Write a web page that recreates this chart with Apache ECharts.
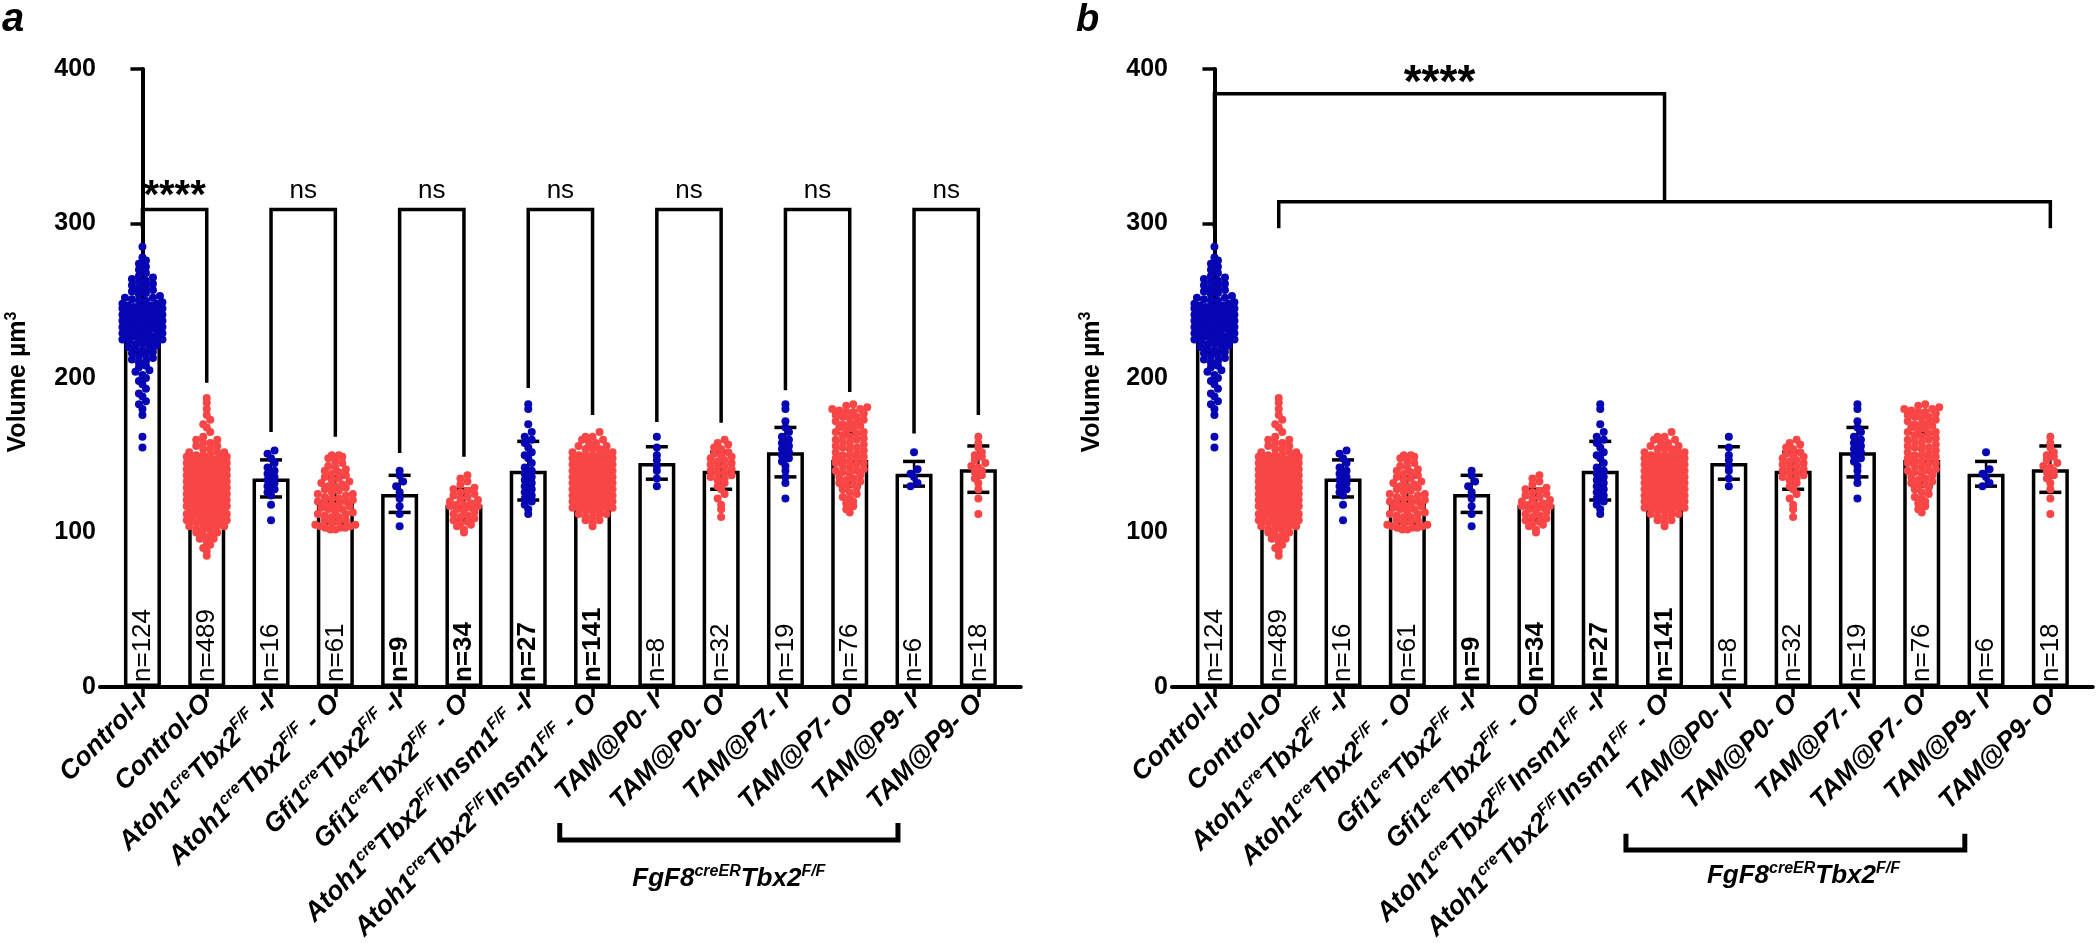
<!DOCTYPE html>
<html><head><meta charset="utf-8">
<script src="https://cdn.jsdelivr.net/npm/echarts@6/dist/echarts.min.js"></script>
<style>html,body{margin:0;padding:0;background:#fff}#c{width:2100px;height:949px}</style>
</head><body><div id="c"></div>
<script>
// ---------------- DATA ----------------
const categoryLabels = [
  '{b|Control-I}',
  '{b|Control-O}',
  '{b|Atoh1}{s|cre}{b|Tbx2}{s|F/F}{b| -I}',
  '{b|Atoh1}{s|cre}{b|Tbx2}{s|F/F}{b| - O}',
  '{b|Gfi1}{s|cre}{b|Tbx2}{s|F/F}{b| -I}',
  '{b|Gfi1}{s|cre}{b|Tbx2}{s|F/F}{b| - O}',
  '{b|Atoh1}{s|cre}{b|Tbx2}{s|F/F}{b|Insm1}{s|F/F}{b| -I}',
  '{b|Atoh1}{s|cre}{b|Tbx2}{s|F/F}{b|Insm1}{s|F/F}{b| - O}',
  '{b|TAM@P0- I}', '{b|TAM@P0- O}', '{b|TAM@P7- I}', '{b|TAM@P7- O}', '{b|TAM@P9- I}', '{b|TAM@P9- O}'
];
const nLabels = ['n=124','n=489','n=16','n=61','n=9','n=34','n=27','n=141','n=8','n=32','n=19','n=76','n=6','n=18'];
const nBold   = [false,false,false,false,true,true,true,true,false,false,false,false,false,false];
const groupColor = ['blue','red','blue','red','blue','red','blue','red','blue','red','blue','red','blue','red'];
const means = [237, 131, 135, 121, 125, 118, 140, 137, 145, 140, 152, 147, 138, 141];
const sds   = [20, 13, 12, 15, 12, 10, 19, 12, 10.5, 12, 16, 17, 8, 15];
const yTicks = [0, 100, 200, 300, 400];

const ctrlI = [155,162,176,180,183,185,188,190,193,196,198,200,202,204,205,207,208,210,211,212,
213,214,215,216,217,218,219,220,220,221,222,222,223,224,224,225,225,226,226,227,
227,228,228,229,229,230,230,230,231,231,232,232,232,233,233,234,234,234,235,235,
235,236,236,236,237,237,237,238,238,238,239,239,239,240,240,240,241,241,241,242,
242,242,243,243,244,244,244,245,245,246,246,247,247,248,248,249,250,250,251,252,
252,253,254,255,256,257,258,259,260,261,262,263,264,265,266,268,270,272,274,276,
285,278,246,238];
const ctrlO = [85,88,90,92,94,96,96,98,98,100,100,102,102,102,104,104,104,106,106,106,106,
108,108,108,108,108,110,110,110,110,110,110,112,112,112,112,112,112,112,112,
114,114,114,114,114,114,114,114,114,114,115,115,115,115,115,115,115,115,115,115,
116,116,116,116,116,116,116,116,116,116,116,116,117,117,117,117,117,117,117,117,117,117,117,117,
118,118,118,118,118,118,118,118,118,118,118,118,118,119,119,119,119,119,119,119,119,119,119,119,119,119,119,
120,120,120,120,120,120,120,120,120,120,120,120,120,120,120,121,121,121,121,121,121,121,121,121,121,121,121,121,121,121,
122,122,122,122,122,122,122,122,122,122,122,122,122,122,122,122,123,123,123,123,123,123,123,123,123,123,123,123,123,123,123,123,
124,124,124,124,124,124,124,124,124,124,124,124,124,124,124,124,124,125,125,125,125,125,125,125,125,125,125,125,125,125,125,125,125,125,
126,126,126,126,126,126,126,126,126,126,126,126,126,126,126,126,126,127,127,127,127,127,127,127,127,127,127,127,127,127,127,127,127,127,
128,128,128,128,128,128,128,128,128,128,128,128,128,128,128,128,128,129,129,129,129,129,129,129,129,129,129,129,129,129,129,129,129,129,
130,130,130,130,130,130,130,130,130,130,130,130,130,130,130,130,130,131,131,131,131,131,131,131,131,131,131,131,131,131,131,131,131,
132,132,132,132,132,132,132,132,132,132,132,132,132,132,132,132,133,133,133,133,133,133,133,133,133,133,133,133,133,133,133,
134,134,134,134,134,134,134,134,134,134,134,134,134,134,134,135,135,135,135,135,135,135,135,135,135,135,135,135,135,
136,136,136,136,136,136,136,136,136,136,136,136,136,137,137,137,137,137,137,137,137,137,137,137,137,
138,138,138,138,138,138,138,138,138,138,138,139,139,139,139,139,139,139,139,139,139,
140,140,140,140,140,140,140,140,140,141,141,141,141,141,141,141,141,142,142,142,142,142,142,142,
143,143,143,143,143,143,144,144,144,144,144,144,145,145,145,145,145,146,146,146,146,146,
147,147,147,147,148,148,148,148,149,149,149,150,150,150,152,152,152,154,154,156,156,158,158,160,160,
162,165,168,170,173,176,180,184,187];
const atohI = [108,118,124,126,128,130,132,134,136,138,140,142,145,148,151,153];
const atohO = [102,102,103,103,103,104,104,105,105,106,107,108,108,110,110,111,112,112,113,114,115,115,116,117,118,118,119,120,120,121,122,122,123,124,125,125,126,127,128,129,130,130,131,132,133,134,135,136,137,138,139,140,141,142,143,145,146,148,149,150,150];
const gfiI = [104,112,117,122,126,130,133,137,140];
const gfiO = [100,102,104,105,106,107,108,109,110,111,112,113,114,115,116,117,117,118,118,119,120,121,122,123,124,125,126,127,128,129,131,133,135,137];
const ainsI = [112,115,118,120,122,124,126,128,130,132,134,136,138,140,142,145,148,150,152,155,158,160,162,165,170,180,183];
const ainsO = [104,106,108,108,110,110,112,112,112,114,114,114,116,116,116,116,118,118,118,118,118,
120,120,120,120,120,120,122,122,122,122,122,122,122,124,124,124,124,124,124,124,124,
126,126,126,126,126,126,126,126,128,128,128,128,128,128,128,128,130,130,130,130,130,130,130,130,
132,132,132,132,132,132,132,132,134,134,134,134,134,134,134,134,136,136,136,136,136,136,136,
138,138,138,138,138,138,138,140,140,140,140,140,140,140,142,142,142,142,142,142,142,
144,144,144,144,144,144,146,146,146,146,146,148,148,148,148,150,150,150,150,152,152,152,154,154,154,
156,156,158,158,160,160,162,162,165];
const p0I = [130,135,140,143,147,150,155,162];
const p0O = [110,115,118,122,125,128,130,132,134,135,136,137,138,139,140,141,142,143,144,145,146,147,148,149,150,151,152,154,155,157,158,160];
const p7I = [122,132,136,140,143,146,148,150,152,154,156,158,160,162,165,168,172,180,183];
const p7O = [113,115,117,119,120,122,123,125,126,128,129,130,131,132,133,134,135,136,137,138,139,140,140,141,142,143,144,145,145,146,147,148,148,149,150,150,151,152,153,154,155,155,156,157,158,159,160,160,161,162,163,164,165,165,166,167,168,169,170,170,171,172,173,174,175,175,176,177,178,178,179,180,180,181,182,183];
const p9I = [130,132,136,138,141,152];
const p9O = [112,122,128,132,135,137,139,140,142,143,145,147,149,150,152,155,158,162];
const groupPoints = [ctrlI, ctrlO, atohI, atohO, gfiI, gfiO, ainsI, ainsO, p0I, p0O, p7I, p7O, p9I, p9O];

// significance (panel a): pairs, bracket top value, leg end values, labels
const pairsA = [[0,1],[2,3],[4,5],[6,7],[8,9],[10,11],[12,13]];
const sigLabelsA = ['****','ns','ns','ns','ns','ns','ns'];
const bracketTopA = 309;
const legEndsA = [297, 197, 165, 162, 151.5, 149, 193.5, 176, 171.5, 171, 192, 191, 164, 176];
// significance (panel b)
const sigLabelB = '****';
const bracketB = {upper: 384, lower: 314, legEnd: 297};

// ---------------- LAYOUT ----------------
const FONT = '"Liberation Sans", Arial, sans-serif';
const COLORS = {blue: '#0606b4', red: '#f84646'};
const PX_PER_UNIT = 64.3;
const panels = [
  {left: 100, group: {x1: 6.49, x2: 11.75, yTop: -88, yBot: -99, tx: 9.12, ty: -124}},
  {left: 1172, group: {x1: 6.4, x2: 11.67, yTop: -95, yBot: -105.5, tx: 9.16, ty: -122}}
];

function swarm(vals, idx) {
  const bins = new Map();
  vals.slice().sort((a, b) => a - b).forEach(v => {
    const k = Math.round(v / 4);
    if (!bins.has(k)) bins.set(k, []);
    bins.get(k).push(v);
  });
  const out = [];
  bins.forEach(arr => {
    const k = arr.length;
    const s = k > 1 ? Math.min(7, 40 / (k - 1)) : 0;
    const slots = [];
    for (let j = 0; j < k; j++) slots.push((j - (k - 1) / 2) * s);
    slots.sort((a, b) => Math.abs(a) - Math.abs(b));
    arr.forEach((v, j) => out.push([idx + slots[j] / PX_PER_UNIT, v]));
  });
  return out;
}

const blueData = [], redData = [];
groupPoints.forEach((vals, i) => {
  const pts = swarm(vals, i);
  (groupColor[i] === 'blue' ? blueData : redData).push(...pts);
});

const labelRich = {
  b: {fontFamily: FONT, fontSize: 26.5, fontWeight: 'bold', fontStyle: 'italic', color: '#000', lineHeight: 31},
  s: {fontFamily: FONT, fontSize: 16, fontWeight: 'bold', fontStyle: 'italic', color: '#000', verticalAlign: 'top', lineHeight: 17}
};
const idx14 = means.map((m, i) => i);

const grids = [], xAxes = [], yAxes = [], series = [];
panels.forEach((p, pi) => {
  grids.push({left: p.left, top: 69, width: 14.32 * PX_PER_UNIT, height: 618, containLabel: false, outerBoundsMode: 'none'});
  xAxes.push({
    type: 'value', gridIndex: pi, min: -0.66, max: 13.66,
    splitLine: {show: false},
    axisLine: {show: true, onZero: false, lineStyle: {color: '#000', width: 4}},
    axisTick: {show: true, customValues: idx14, length: 10, lineStyle: {color: '#000', width: 3.5}},
    axisLabel: {show: true, customValues: idx14, rotate: 45, margin: 12, hideOverlap: false,
      formatter: v => categoryLabels[Math.round(v)], rich: labelRich}
  });
  yAxes.push({
    type: 'value', gridIndex: pi, min: 0, max: 400, interval: 100,
    splitLine: {show: false},
    axisLine: {show: true, lineStyle: {color: '#000', width: 4}},
    axisTick: {show: true, length: 12, lineStyle: {color: '#000', width: 3.5}},
    axisLabel: {show: true, margin: 4, fontFamily: FONT, fontSize: 25, fontWeight: 'bold', color: '#000'}
  });
  // bars
  series.push({
    type: 'bar', xAxisIndex: pi, yAxisIndex: pi, barWidth: 37, z: 1,
    data: means.map((m, i) => [i, m]),
    itemStyle: {color: '#fff', borderColor: '#000', borderWidth: 3.5}
  });
  // error bars (under the points)
  series.push({
    type: 'custom', xAxisIndex: pi, yAxisIndex: pi, z: 2,
    data: means.map((m, i) => [i, m, sds[i]]),
    renderItem: (params, api) => {
      const x = api.value(0), m = api.value(1), sd = api.value(2);
      const t = api.coord([x, m + sd]), b = api.coord([x, m - sd]);
      const hw = 11, st = {stroke: '#000', lineWidth: 3.5};
      return {type: 'group', children: [
        {type: 'line', shape: {x1: t[0], y1: t[1], x2: b[0], y2: b[1]}, style: {stroke: '#000', lineWidth: 2.5}},
        {type: 'line', shape: {x1: t[0] - hw, y1: t[1], x2: t[0] + hw, y2: t[1]}, style: st},
        {type: 'line', shape: {x1: b[0] - hw, y1: b[1], x2: b[0] + hw, y2: b[1]}, style: st}
      ]};
    }
  });
  // points
  series.push({type: 'scatter', xAxisIndex: pi, yAxisIndex: pi, z: 3, symbolSize: 8, data: blueData,
    itemStyle: {color: COLORS.blue, opacity: 1}, silent: true});
  series.push({type: 'scatter', xAxisIndex: pi, yAxisIndex: pi, z: 3, symbolSize: 8, data: redData,
    itemStyle: {color: COLORS.red, opacity: 1}, silent: true});
  // n labels
  series.push({
    type: 'custom', xAxisIndex: pi, yAxisIndex: pi, z: 4,
    data: idx14.map(i => [i, 0]),
    renderItem: (params, api) => {
      const i = params.dataIndex;
      const c = api.coord([api.value(0), 0]);
      return {type: 'text', x: c[0], y: c[1] - 5, rotation: Math.PI / 2,
        style: {text: nLabels[i], fill: '#000', fontFamily: FONT, fontSize: 26,
          fontWeight: nBold[i] ? 'bold' : 'normal', align: 'left', verticalAlign: 'middle'}};
    }
  });
  // FgF8 group bracket under labels
  series.push({
    type: 'custom', xAxisIndex: pi, yAxisIndex: pi, z: 5, clip: false,
    data: [[p.group.x1, p.group.x2, p.group.yTop, p.group.yBot, p.group.tx, p.group.ty]],
    renderItem: (params, api) => {
      const a = api.coord([api.value(0), api.value(2)]);
      const a2 = api.coord([api.value(0), api.value(3)]);
      const b2 = api.coord([api.value(1), api.value(3)]);
      const b = api.coord([api.value(1), api.value(2)]);
      const t = api.coord([api.value(4), api.value(5)]);
      return {type: 'group', children: [
        {type: 'polyline', shape: {points: [a, a2, b2, b]}, style: {stroke: '#000', lineWidth: 5, fill: null}},
        {type: 'text', x: t[0], y: t[1], style: {
          text: '{i|FgF8}{s|creER}{i|Tbx2}{s|F/F}', align: 'center', verticalAlign: 'middle',
          rich: {i: {fontFamily: FONT, fontSize: 26, fontWeight: 'bold', fontStyle: 'italic', fill: '#000', lineHeight: 30},
                 s: {fontFamily: FONT, fontSize: 16, fontWeight: 'bold', fontStyle: 'italic', fill: '#000', verticalAlign: 'top', lineHeight: 16}}
        }}
      ]};
    }
  });
});

// panel a significance brackets
series.push({
  type: 'custom', xAxisIndex: 0, yAxisIndex: 0, z: 6, clip: false,
  data: pairsA.map(pr => [pr[0], pr[1], bracketTopA, legEndsA[pr[0]], legEndsA[pr[1]]]),
  renderItem: (params, api) => {
    const x1 = api.value(0), x2 = api.value(1), top = api.value(2);
    const p1 = api.coord([x1, api.value(3)]), p2 = api.coord([x1, top]);
    const p3 = api.coord([x2, top]), p4 = api.coord([x2, api.value(4)]);
    const lab = sigLabelsA[params.dataIndex];
    const star = lab === '****';
    const tc = api.coord([(x1 + x2) / 2, top + (star ? 8 : 12)]);
    return {type: 'group', children: [
      {type: 'polyline', shape: {points: [p1, p2, p3, p4]}, style: {stroke: '#000', lineWidth: 3.5, fill: null}},
      {type: 'text', x: tc[0], y: tc[1], style: {text: lab, fill: '#000', fontFamily: FONT,
        fontSize: star ? 40 : 26, fontWeight: star ? 'bold' : 'normal', align: 'center', verticalAlign: 'middle'}}
    ]};
  }
});
// panel b significance bracket
series.push({
  type: 'custom', xAxisIndex: 1, yAxisIndex: 1, z: 6, clip: false,
  data: [[0, 1, 13, bracketB.upper, bracketB.lower, bracketB.legEnd]],
  renderItem: (params, api) => {
    const a = api.value(0), b1 = api.value(1), b2 = api.value(2);
    const up = api.value(3), lo = api.value(4), leg = api.value(5);
    const mid = (b1 + b2) / 2;
    const upper = [api.coord([a, leg]), api.coord([a, up]), api.coord([mid, up]), api.coord([mid, lo])];
    const lower = [api.coord([b1, leg]), api.coord([b1, lo]), api.coord([b2, lo]), api.coord([b2, leg])];
    const tc = api.coord([(a + mid) / 2, up + 6]);
    return {type: 'group', children: [
      {type: 'polyline', shape: {points: upper}, style: {stroke: '#000', lineWidth: 3.5, fill: null}},
      {type: 'polyline', shape: {points: lower}, style: {stroke: '#000', lineWidth: 3.5, fill: null}},
      {type: 'text', x: tc[0], y: tc[1], style: {text: sigLabelB, fill: '#000', fontFamily: FONT,
        fontSize: 46, fontWeight: 'bold', align: 'center', verticalAlign: 'middle'}}
    ]};
  }
});

const titleRich = {
  b: {fontFamily: FONT, fontSize: 25, fontWeight: 'bold', fill: '#000', lineHeight: 28},
  s: {fontFamily: FONT, fontSize: 16, fontWeight: 'bold', fill: '#000', verticalAlign: 'top', lineHeight: 16}
};
const graphic = [
  {type: 'text', left: 2, top: 0, style: {text: 'a', fontFamily: FONT, fontSize: 40, fontWeight: 'bold', fontStyle: 'italic', fill: '#000'}},
  {type: 'text', left: 1076, top: 2, style: {text: 'b', fontFamily: FONT, fontSize: 38, fontWeight: 'bold', fontStyle: 'italic', fill: '#000'}},
  {type: 'text', x: 18, y: 382, rotation: Math.PI / 2, style: {text: '{b|Volume µm}{s|3}', rich: titleRich, align: 'center', verticalAlign: 'middle'}},
  {type: 'text', x: 1092, y: 382, rotation: Math.PI / 2, style: {text: '{b|Volume µm}{s|3}', rich: titleRich, align: 'center', verticalAlign: 'middle'}}
];

const chart = echarts.init(document.getElementById('c'));
chart.setOption({
  animation: false,
  backgroundColor: '#fff',
  grid: grids, xAxis: xAxes, yAxis: yAxes, series: series, graphic: graphic
});
</script></body></html>
